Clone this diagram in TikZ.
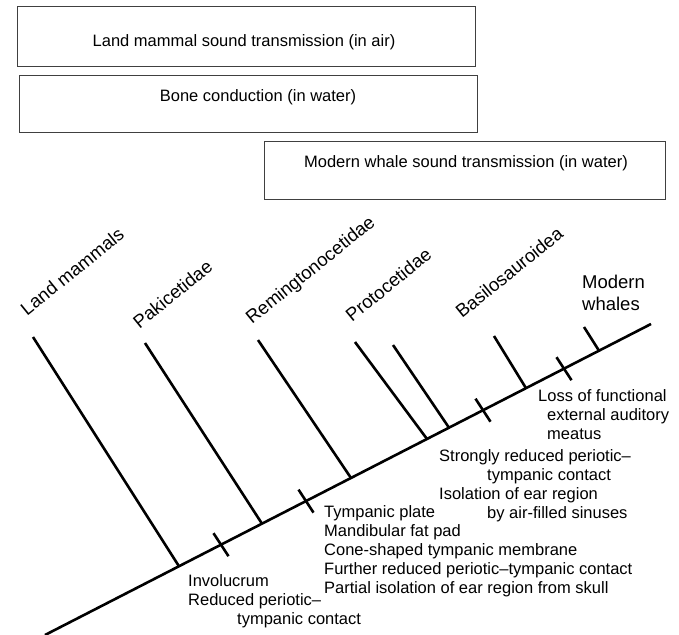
\documentclass[tikz,border=0pt]{standalone}
\usepackage{fontspec}
\setmainfont{Liberation Sans}
\usetikzlibrary{calc}
\begin{document}
\begin{tikzpicture}[x=1pt,y=-1pt,
  box/.style={draw=black!75, line width=1pt, inner sep=0pt},
  boxtext/.style={font=\fontsize{16.5}{19}\selectfont, anchor=base, inner sep=0pt},
  clade/.style={font=\fontsize{18.5}{22}\selectfont, anchor=base west, rotate=39, inner sep=0pt},
  cladeflat/.style={font=\fontsize{18.5}{22}\selectfont, anchor=base west, inner sep=0pt},
  note/.style={font=\fontsize{16.5}{19}\selectfont, anchor=base west, inner sep=0pt},
  stem/.style={line width=2.6pt, line cap=butt},
]
\useasboundingbox (0,0) rectangle (679,634);

% boxes
\node[box, minimum width=458pt, minimum height=59pt] (b1) at (246,36.5) {};
\node[box, minimum width=457.5pt, minimum height=57pt] (b2) at (248.25,103.5) {};
\node[box, minimum width=401pt, minimum height=58pt] (b3) at (464.5,170) {};
\node[boxtext] (b1t) at (244,46.5) {Land mammal sound transmission (in air)};
\node[boxtext] (b2t) at (258,101.5) {Bone conduction (in water)};
\node[boxtext] (b3t) at (466,167.5) {Modern whale sound transmission (in water)};

% main line
\coordinate (A) at (45,635);
\coordinate (B) at (651,324);
\draw[stem] (A) -- (B);

% branch bases on main line
\coordinate (m1) at (179,566.3);
\coordinate (m2) at (262,523.7);
\coordinate (m3) at (351,478.0);
\coordinate (m4) at (427,439.0);
\coordinate (m5) at (449,427.7);
\coordinate (m6) at (526,388.2);
\coordinate (m7) at (599,350.7);
% branch tips
\coordinate (p1) at (33,337);
\coordinate (p2) at (145,343);
\coordinate (p3) at (258,340);
\coordinate (p4) at (355,342);
\coordinate (p5) at (393,345);
\coordinate (p6) at (494,336);
\coordinate (p7) at (584,327);
\foreach \i in {1,...,7}{\draw[stem] (p\i) -- (m\i);}

% ticks
\coordinate (t1) at (221,544.7);
\coordinate (t2) at (306,501.1);
\coordinate (t3) at (483,410.2);
\coordinate (t4) at (564,368.7);
\foreach \i in {1,...,4}{\draw[stem] ($(t\i)+(-7.5,-11.5)$) -- ($(t\i)+(7.5,11.5)$);}

% clade labels
\node[clade] (l1) at (27,316.5) {Land mammals};
\node[clade] (l2) at (139.5,329.5) {Pakicetidae};
\node[clade] (l3) at (252,325) {Remingtonocetidae};
\node[clade] (l4) at (352,322.5) {Protocetidae};
\node[clade] (l5) at (462,319) {Basilosauroidea};
\node[cladeflat] (l6) at (582,288) {Modern};
\node[cladeflat] (l7) at (582,310) {whales};

% character notes
\node[note] (n1) at (188,586.5) {Involucrum};
\node[note] (n2) at (188,605.5) {Reduced periotic–};
\node[note] (n3) at (237,624) {tympanic contact};

\node[note] (n4) at (324,517) {Tympanic plate};
\node[note] (n5) at (324,536) {Mandibular fat pad};
\node[note] (n6) at (324,555) {Cone-shaped tympanic membrane};
\node[note] (n7) at (324,574) {Further reduced periotic–tympanic contact};
\node[note] (n8) at (324,593) {Partial isolation of ear region from skull};

\node[note] (n9) at (439,461.5) {Strongly reduced periotic–};
\node[note] (n10) at (487,480) {tympanic contact};
\node[note] (n11) at (439,499) {Isolation of ear region};
\node[note] (n12) at (487,518) {by air-filled sinuses};

\node[note] (n13) at (538,401.5) {Loss of functional};
\node[note] (n14) at (547,420.5) {external auditory};
\node[note] (n15) at (547,439.5) {meatus};
\end{tikzpicture}
\end{document}
